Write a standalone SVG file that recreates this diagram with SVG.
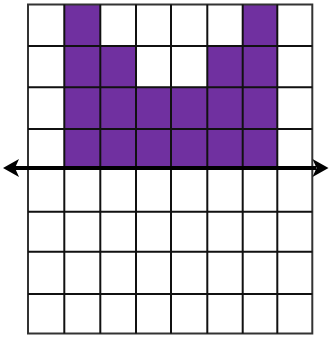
<svg xmlns="http://www.w3.org/2000/svg" width="329" height="340" viewBox="0 0 329 340">
<style>
.fill{fill:#7030a0;stroke:none}
.grid{stroke:#111;stroke-width:2;fill:none}
.axis{stroke:#000;stroke-width:4;fill:none}
.head{fill:#000;stroke:none}
</style>
<rect width="329" height="340" fill="#fff"/>
<g id="shaded">
<rect class="fill" x="64.3" y="4.5" width="36" height="163.5"/>
<rect class="fill" x="100.3" y="46" width="35.7" height="122"/>
<rect class="fill" x="136" y="87.3" width="71.3" height="80.7"/>
<rect class="fill" x="207.3" y="46" width="35.4" height="122"/>
<rect class="fill" x="242.7" y="4.5" width="34.6" height="163.5"/>
</g>
<g id="grid" class="grid">
<rect x="28" y="4.5" width="284.3" height="329" stroke="#333"/>
<path d="M64.3 4.5V333.5M100.3 4.5V333.5M136 4.5V333.5M171 4.5V333.5M207.3 4.5V333.5M242.7 4.5V333.5M277.3 4.5V333.5"/>
<path d="M28 46H312.3M28 87.3H312.3M28 129H312.3M28 211.7H312.3M28 251.7H312.3M28 294H312.3"/>
</g>
<g id="connectors">
<path class="axis" d="M14 168H316"/>
<path class="head" d="M3 168L19 159L15 168L19 177Z"/>
<path class="head" d="M328.5 168L312.5 159L316.5 168L312.5 177Z"/>
</g>
</svg>
